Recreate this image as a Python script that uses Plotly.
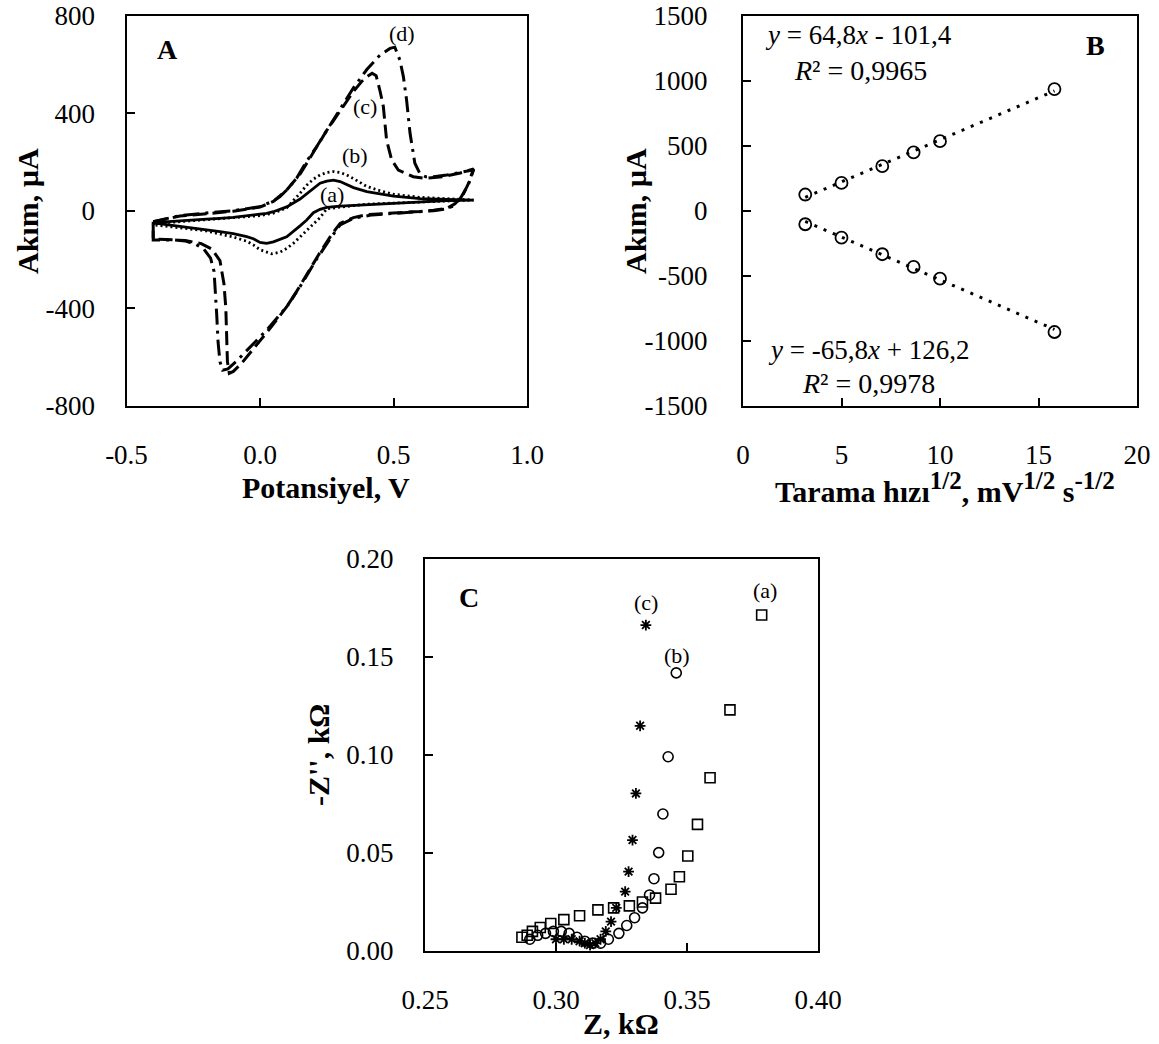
import plotly.graph_objects as go

W, H = 1159, 1044
FONT = "Liberation Serif"

# ---------------- Panel A : cyclic voltammograms ----------------
E_a = [-0.40, -0.30, -0.20, -0.15, -0.10, 0.00, 0.025, 0.05, 0.10, 0.15, 0.20, 0.225, 0.25, 0.275, 0.30, 0.325, 0.35, 0.40, 0.50, 0.60, 0.70, 0.80,
       0.70, 0.60, 0.50, 0.40, 0.30, 0.25, 0.225, 0.20, 0.175, 0.15, 0.10, 0.05, 0.025, 0.00, -0.025, -0.05, -0.10, -0.15, -0.20, -0.30, -0.40]
I_a = [-49, -40, -34, -31, -27, -14, -11, -4, 16, 48, 92, 113, 122, 126, 120, 106, 95, 79, 60, 50, 46, 44,
       42, 37, 31, 25, 19, 14, 6, -8, -38, -62, -107, -128, -134, -130, -115, -106, -94, -86, -79, -65, -50]

E_b = [-0.40, -0.30, -0.20, -0.10, 0.00, 0.05, 0.10, 0.15, 0.175, 0.20, 0.225, 0.25, 0.275, 0.30, 0.325, 0.35, 0.40, 0.45, 0.50, 0.60, 0.70, 0.80,
       0.70, 0.60, 0.50, 0.40, 0.30, 0.25, 0.225, 0.20, 0.175, 0.15, 0.125, 0.10, 0.075, 0.044, 0.00, -0.025, -0.05, -0.10, -0.15, -0.20, -0.30, -0.40]
I_b = [-53, -45, -39, -31, -20, -10, 12, 72, 105, 130, 147, 157, 161, 157, 147, 132, 100, 82, 68, 55, 48, 44,
       40, 36, 31, 27, 15, 8, -28, -55, -79, -105, -134, -155, -170, -177, -160, -140, -125, -108, -94, -83, -70, -58]

E_c = [-0.40, -0.35, -0.30, -0.20, -0.10, 0.00, 0.05, 0.10, 0.15, 0.20, 0.25, 0.30, 0.35, 0.38, 0.40, 0.42, 0.435, 0.45, 0.462, 0.474, 0.493, 0.518, 0.574, 0.618, 0.686, 0.75, 0.80,
       0.78, 0.76, 0.73, 0.70, 0.65, 0.60, 0.50, 0.40, 0.35, 0.30, 0.27, 0.22, 0.16, 0.11, 0.04, -0.02, -0.07, -0.10, -0.115, -0.122, -0.125, -0.128, -0.135, -0.15, -0.18, -0.22, -0.28, -0.40, -0.40]
I_c = [-45, -32, -22, -12, -2, 15, 38, 85, 150, 240, 330, 410, 490, 530, 550, 565, 555, 490, 428, 291, 209, 167, 140, 133, 140, 155, 172,
       110, 65, 28, 10, 2, -3, -9, -16, -28, -52, -95, -180, -290, -380, -480, -560, -628, -660, -668, -620, -520, -400, -300, -205, -158, -135, -122, -116, -45]

E_d = [-0.40, -0.35, -0.30, -0.20, -0.10, 0.00, 0.05, 0.075, 0.10, 0.137, 0.17, 0.212, 0.25, 0.275, 0.30, 0.35, 0.40, 0.424, 0.45, 0.487, 0.505, 0.524, 0.537, 0.549, 0.555, 0.562, 0.58, 0.60, 0.62, 0.65, 0.70, 0.75, 0.80,
       0.78, 0.75, 0.72, 0.70, 0.65, 0.52, 0.42, 0.35, 0.30, 0.26, 0.21, 0.15, 0.10, 0.025, -0.04, -0.09, -0.12, -0.14, -0.15, -0.157, -0.162, -0.166, -0.172, -0.185, -0.21, -0.24, -0.28, -0.32, -0.40, -0.40]
I_d = [-45, -32, -20, -9, 0, 17, 40, 58, 85, 133, 195, 263, 330, 373, 420, 505, 580, 608, 640, 667, 672, 619, 551, 455, 380, 318, 195, 150, 140, 140, 147, 157, 168,
       106, 50, 18, 8, 0, -8, -17, -31, -58, -120, -202, -312, -394, -490, -565, -620, -650, -655, -620, -540, -430, -330, -250, -195, -158, -138, -124, -120, -120, -45]

A_xticks = [-0.5, 0.0, 0.5, 1.0]
A_xtext = ["-0.5", "0.0", "0.5", "1.0"]
A_yticks = [-800, -400, 0, 400, 800]
A_ytext = ["-800", "-400", "0", "400", "800"]

# ---------------- Panel B : peak current vs sqrt(scan rate) ----------------
B_x = [3.16, 5.00, 7.07, 8.66, 10.00, 15.81]
B_anodic = [125, 214, 343, 449, 536, 937]
B_cathodic = [-104, -207, -335, -433, -523, -934]
B_fit_up = (64.8, -101.4)
B_fit_down = (-65.8, 126.2)
B_xticks = [0, 5, 10, 15, 20]
B_xtext = ["0", "5", "10", "15", "20"]
B_yticks = [-1500, -1000, -500, 0, 500, 1000, 1500]
B_ytext = ["-1500", "-1000", "-500", "0", "500", "1000", "1500"]

# ---------------- Panel C : Nyquist plots ----------------
C_a_x = [0.287, 0.289, 0.291, 0.294, 0.298, 0.303, 0.309, 0.316, 0.322, 0.328, 0.333, 0.338, 0.3439, 0.3471, 0.3503, 0.354, 0.3588, 0.3664, 0.3785]
C_a_y = [0.007, 0.008, 0.010, 0.012, 0.014, 0.016, 0.018, 0.021, 0.022, 0.023, 0.025, 0.027, 0.0315, 0.0379, 0.0485, 0.0646, 0.0884, 0.1230, 0.1714]
C_b_x = [0.290, 0.293, 0.296, 0.299, 0.302, 0.305, 0.308, 0.311, 0.314, 0.317, 0.320, 0.324, 0.327, 0.330, 0.333, 0.3357, 0.3374, 0.3392, 0.3408, 0.3428, 0.3459]
C_b_y = [0.006, 0.008, 0.009, 0.010, 0.010, 0.009, 0.007, 0.005, 0.004, 0.004, 0.006, 0.009, 0.013, 0.017, 0.022, 0.0286, 0.0369, 0.0502, 0.0699, 0.0991, 0.1419]
C_c_x = [0.300, 0.303, 0.306, 0.309, 0.311, 0.313, 0.315, 0.317, 0.319, 0.321, 0.323, 0.3264, 0.3277, 0.3292, 0.3305, 0.3321, 0.3343]
C_c_y = [0.006, 0.006, 0.006, 0.005, 0.004, 0.003, 0.004, 0.006, 0.010, 0.015, 0.022, 0.0303, 0.0405, 0.0566, 0.0804, 0.1149, 0.1663]
C_xticks = [0.25, 0.30, 0.35, 0.40]
C_xtext = ["0.25", "0.30", "0.35", "0.40"]
C_yticks = [0.00, 0.05, 0.10, 0.15, 0.20]
C_ytext = ["0.00", "0.05", "0.10", "0.15", "0.20"]


def px(x):
    return x / W


def py(y):
    return 1 - y / H


fig = go.Figure()

# Panel A traces
fig.add_trace(go.Scatter(x=E_a, y=I_a, mode="lines", line=dict(color="black", width=2.8), xaxis="x", yaxis="y"))
fig.add_trace(go.Scatter(x=E_b, y=I_b, mode="lines", line=dict(color="black", width=2.8, dash="2px,3px"), xaxis="x", yaxis="y"))
fig.add_trace(go.Scatter(x=E_c, y=I_c, mode="lines", line=dict(color="black", width=3, dash="14px,6px"), xaxis="x", yaxis="y"))
fig.add_trace(go.Scatter(x=E_d, y=I_d, mode="lines", line=dict(color="black", width=3, dash="16px,6px,3px,6px"), xaxis="x", yaxis="y"))

# Panel B traces
x_line = [B_x[0], B_x[-1]]
fig.add_trace(go.Scatter(x=x_line, y=[B_fit_up[0] * v + B_fit_up[1] for v in x_line], mode="lines",
                         line=dict(color="black", width=3, dash="3px,7px"), xaxis="x2", yaxis="y2"))
fig.add_trace(go.Scatter(x=x_line, y=[B_fit_down[0] * v + B_fit_down[1] for v in x_line], mode="lines",
                         line=dict(color="black", width=3, dash="3px,7px"), xaxis="x2", yaxis="y2"))
fig.add_trace(go.Scatter(x=B_x, y=B_anodic, mode="markers",
                         marker=dict(symbol="circle-open", size=12, color="black", line=dict(width=1.8)), xaxis="x2", yaxis="y2"))
fig.add_trace(go.Scatter(x=B_x, y=B_cathodic, mode="markers",
                         marker=dict(symbol="circle-open", size=12, color="black", line=dict(width=1.8)), xaxis="x2", yaxis="y2"))

# Panel C traces
fig.add_trace(go.Scatter(x=C_a_x, y=C_a_y, mode="markers",
                         marker=dict(symbol="square-open", size=10, color="black", line=dict(width=1.6)), xaxis="x3", yaxis="y3"))
fig.add_trace(go.Scatter(x=C_b_x, y=C_b_y, mode="markers",
                         marker=dict(symbol="circle-open", size=10, color="black", line=dict(width=1.6)), xaxis="x3", yaxis="y3"))
fig.add_trace(go.Scatter(x=C_c_x, y=C_c_y, mode="markers",
                         marker=dict(symbol="asterisk-open", size=9, color="black", line=dict(width=1.8)), xaxis="x3", yaxis="y3"))

tickfont = dict(family=FONT, size=27, color="black")


def axis(domain, rng, tv, tt, anchor, standoff):
    return dict(domain=domain, range=rng, tickvals=tv, ticktext=tt, anchor=anchor,
                showline=True, linecolor="black", linewidth=2, mirror=True,
                ticks="inside", ticklen=8, tickwidth=1.5, tickcolor="black",
                showgrid=False, zeroline=False, tickfont=tickfont, ticklabelstandoff=standoff,
                ticklabeloverflow="allow", automargin=False)


yA = [py(405.5), py(16)]
yC = [py(951), py(559)]

fig.update_layout(
    width=W, height=H, autosize=False,
    margin=dict(l=0, r=0, t=0, b=0),
    paper_bgcolor="white", plot_bgcolor="white",
    showlegend=False,
    font=dict(family=FONT, color="black"),
    xaxis=axis([px(126.5), px(527)], [-0.5, 1.0], A_xticks, A_xtext, "y", 24),
    yaxis=axis(yA, [-800, 800], A_yticks, A_ytext, "x", 24),
    xaxis2=axis([px(743), px(1137)], [0, 20], B_xticks, B_xtext, "y2", 24),
    yaxis2=axis(yA, [-1500, 1500], B_yticks, B_ytext, "x2", 28),
    xaxis3=axis([px(425), px(818)], [0.25, 0.40], C_xticks, C_xtext, "y3", 24),
    yaxis3=axis(yC, [0, 0.20], C_yticks, C_ytext, "x3", 24),
)


def ann(text, x, y, size, xanchor="center", yanchor="middle", angle=0):
    return dict(text=text, x=px(x), y=py(y), xref="paper", yref="paper", showarrow=False,
                xanchor=xanchor, yanchor=yanchor, textangle=angle,
                font=dict(family=FONT, size=size, color="black"))


TS = 30


def sup(t):
    return '<sup><span style="font-size:25px">' + t + '</span></sup>'


annotations = [
    # Panel A
    ann("<b>A</b>", 167, 50, 28),
    ann("(a)", 332, 194, 22),
    ann("(b)", 355, 155, 22),
    ann("(c)", 365, 107, 22),
    ann("(d)", 402, 33, 22),
    ann("<b>Potansiyel, V</b>", 326, 487, TS),
    ann("<b>Akım, µA</b>", 27, 211, TS, angle=-90),
    # Panel B
    ann("<b>B</b>", 1095, 45, 28),
    ann("<i>y</i> = 64,8<i>x</i> - 101,4", 858, 35, 27),
    ann("<i>R</i>² = 0,9965", 860, 70, 28),
    ann("<i>y</i> = -65,8<i>x</i> + 126,2", 868, 350, 27),
    ann("<i>R</i>² = 0,9978", 868, 383, 28),
    ann("<b>Tarama hızı" + sup("1/2") + ", mV" + sup("1/2") + " s" + sup("-1/2") + "</b>", 945, 487, TS),
    ann("<b>Akım, µA</b>", 635, 211, TS, angle=-90),
    # Panel C
    ann("<b>C</b>", 469, 597, 28),
    ann("(c)", 646, 602, 22),
    ann("(b)", 677, 655, 22),
    ann("(a)", 765, 590, 22),
    ann("<b>-Z'', kΩ</b>", 318, 755, TS, angle=-90),
    ann("<b>Z, kΩ</b>", 621, 1023, TS),
]
fig.update_layout(annotations=annotations)

# remove the default 8px page margin so the figure fills the window exactly; hide the modebar
fig.write_html("out.html", config={"displayModeBar": False},
               post_script="document.body.style.margin='0px';")
